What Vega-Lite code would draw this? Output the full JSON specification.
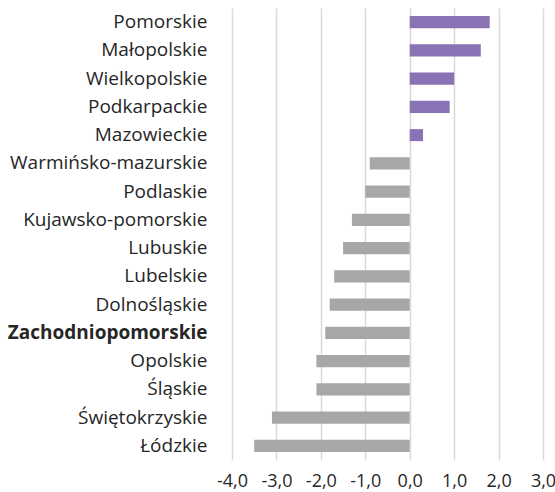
{
  "$schema": "https://vega.github.io/schema/vega-lite/v6.json",
  "width": 311,
  "height": 452,
  "autosize": "none",
  "padding": {"left": 232, "top": 8, "right": 12, "bottom": 32},
  "background": "white",
  "config": {"view": {"stroke": null}},
  "data": {
    "values": [
      {"region": "Pomorskie", "value": 1.8},
      {"region": "Małopolskie", "value": 1.6},
      {"region": "Wielkopolskie", "value": 1.0},
      {"region": "Podkarpackie", "value": 0.9},
      {"region": "Mazowieckie", "value": 0.3},
      {"region": "Warmińsko-mazurskie", "value": -0.9},
      {"region": "Podlaskie", "value": -1.0},
      {"region": "Kujawsko-pomorskie", "value": -1.3},
      {"region": "Lubuskie", "value": -1.5},
      {"region": "Lubelskie", "value": -1.7},
      {"region": "Dolnośląskie", "value": -1.8},
      {"region": "Zachodniopomorskie", "value": -1.9},
      {"region": "Opolskie", "value": -2.1},
      {"region": "Śląskie", "value": -2.1},
      {"region": "Świętokrzyskie", "value": -3.1},
      {"region": "Łódzkie", "value": -3.5}
    ]
  },
  "mark": {"type": "bar"},
  "encoding": {
    "y": {
      "field": "region",
      "type": "nominal",
      "sort": null,
      "scale": {"paddingInner": 0.575, "paddingOuter": 0.2875},
      "axis": {
        "title": null,
        "domain": false,
        "ticks": false,
        "grid": false,
        "labelPadding": 25,
        "labelFont": "Open Sans",
        "labelFontSize": 19,
        "labelColor": "#262626",
        "labelLimit": 300,
        "labelFontWeight": {"condition": {"test": "datum.value === 'Zachodniopomorskie'", "value": "bold"}, "value": "normal"}
      }
    },
    "x": {
      "field": "value",
      "type": "quantitative",
      "scale": {"domain": [-4, 3], "nice": false, "zero": false},
      "axis": {
        "title": null,
        "domain": false,
        "ticks": false,
        "grid": true,
        "gridColor": "#D9D9D9",
        "gridWidth": 1.5,
        "values": [-4, -3, -2, -1, 0, 1, 2, 3],
        "labelExpr": "replace(replace(format(datum.value, '.1f'), '.', ','), '\u2212', '-')",
        "labelFont": "Open Sans",
        "labelFontSize": 18,
        "labelColor": "#262626",
        "labelPadding": 12,
        "labelFlush": false
      }
    },
    "color": {
      "condition": {"test": "datum.value > 0", "value": "#8A73B5"},
      "value": "#A7A7AA"
    }
  }
}
